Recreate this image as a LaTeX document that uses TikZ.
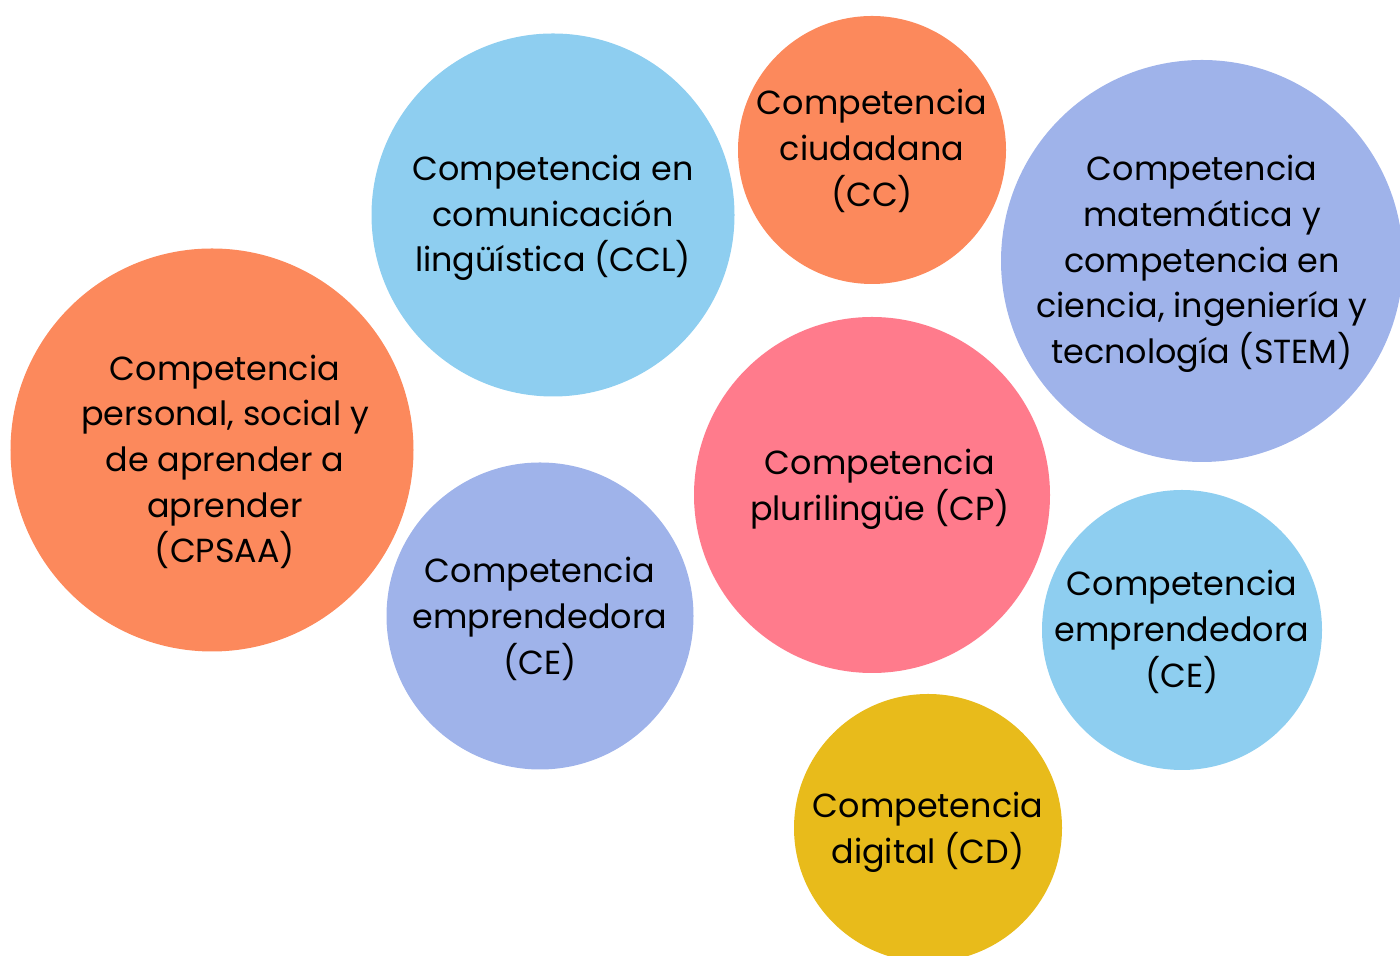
\documentclass[tikz,border=0pt]{standalone}
\usepackage{fontspec}
\setmainfont{Poppins}
\usetikzlibrary{positioning}
\definecolor{skyblue}{RGB}{142, 206, 240}
\definecolor{coral}{RGB}{252, 137, 92}
\definecolor{lavblue}{RGB}{159, 179, 234}
\definecolor{rosepink}{RGB}{255, 123, 140}
\definecolor{goldyel}{RGB}{232, 187, 27}

\begin{document}
\begin{tikzpicture}[
  bubble/.style={circle, inner sep=0pt},
  label/.style={align=center, font=\fontsize{9.5}{13}\selectfont, text=black}
]
  \useasboundingbox (0, 0) rectangle (14, 9.56);
  \clip (0, 0) rectangle (14, 9.56);

  % Bubbles
  \node[bubble, fill=skyblue, minimum size=3.63cm] (ccl) at (5.53, 7.41) {};
  \node[bubble, fill=coral, minimum size=2.68cm] (cc) at (8.72, 8.06) {};
  \node[bubble, fill=lavblue, minimum size=4.02cm] (stem) at (12.02, 6.95) {};
  \node[bubble, fill=coral, minimum size=4.03cm] (cpsaa) at (2.12, 5.06) {};
  \node[bubble, fill=lavblue, minimum size=3.07cm] (celeft) at (5.40, 3.40) {};
  \node[bubble, fill=rosepink, minimum size=3.56cm] (cp) at (8.72, 4.61) {};
  \node[bubble, fill=skyblue, minimum size=2.80cm] (ceright) at (11.82, 3.26) {};
  \node[bubble, fill=goldyel, minimum size=2.68cm] (cd) at (9.28, 1.28) {};

  % Texts
  \node[label] (cclt) at (5.53, 7.38) {Competencia en\\comunicación\\lingüística (CCL)};
  \node[label] (cct) at (8.72, 8.05) {Competencia\\ciudadana\\(CC)};
  \node[label] (stemt) at (12.02, 6.92) {Competencia\\matemática y\\competencia en\\ciencia, ingeniería y\\tecnología (STEM)};
  \node[label] (cpsaat) at (2.25, 4.94) {Competencia\\personal, social y\\de aprender a\\aprender\\(CPSAA)};
  \node[label] (celeftt) at (5.40, 3.37) {Competencia\\emprendedora\\(CE)};
  \node[label] (cpt) at (8.80, 4.67) {Competencia\\plurilingüe (CP)};
  \node[label] (cerightt) at (11.82, 3.24) {Competencia\\emprendedora\\(CE)};
  \node[label] (cdt) at (9.28, 1.24) {Competencia\\digital (CD)};
\end{tikzpicture}
\end{document}
